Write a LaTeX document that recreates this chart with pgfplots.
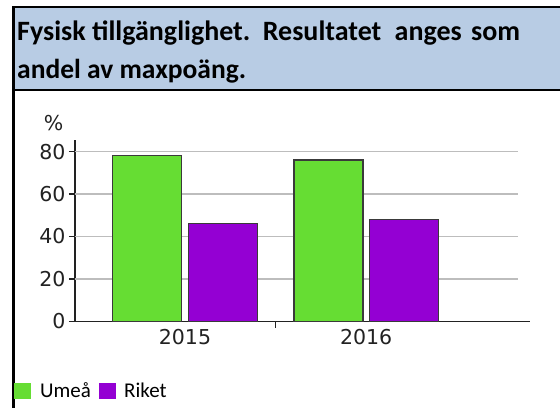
\documentclass[border=0pt]{standalone}
\usepackage{pgfplots}
\pgfplotsset{compat=1.18}
\usepackage{fontspec}
\setmainfont{Carlito}
\newfontfamily\tickfont{DejaVu Sans}
\definecolor{hdr}{HTML}{B8CCE4}
\definecolor{umea}{HTML}{66DD33}
\definecolor{riket}{HTML}{9400D3}
\definecolor{gridc}{HTML}{BDBDBD}
\definecolor{barline}{HTML}{3A3A3A}
\definecolor{axc}{HTML}{222222}
\begin{document}
\begin{tikzpicture}[x=1bp,y=1bp]
\path[use as bounding box] (0,0) rectangle (560,407);
\fill[white] (0,0) rectangle (560,407);
\fill[hdr] (13.5,400) rectangle (561,317);
\draw[line width=2.5bp] (562,400) -- (13.5,400) -- (13.5,-2);
\draw[line width=2.5bp] (13.5,317) -- (562,317);
\node[anchor=base west, inner sep=0, font=\bfseries\fontsize{28bp}{30bp}\selectfont] at (17,367) {Fysisk tillgänglighet.\hspace{4bp} Resultatet\hspace{7bp} anges\hspace{3bp} som};
\node[anchor=base west, inner sep=0, font=\bfseries\fontsize{27.5bp}{30bp}\selectfont] at (17,329) {andel av maxpoäng.};
\begin{axis}[
  scale only axis, width=455bp, height=181bp,
  at={(75bp,85.5bp)}, anchor=south west,
  xmin=-0.607, xmax=1.904, ymin=0, ymax=85.2,
  axis x line*=bottom, axis y line*=left,
  axis line style={line width=1.3bp, axc, -},
  xtick={0.5}, xticklabels={},
  extra x ticks={0,1}, extra x tick labels={2015,2016},
  extra x tick style={major tick length=0pt},
  ytick={0,20,40,60,80},
  tick align=outside, major tick length=6bp,
  tick style={axc, line width=1.3bp},
  ticklabel style={font=\tickfont\fontsize{20.5bp}{20.5bp}\selectfont, text=axc},
  xticklabel style={yshift=-4bp},
  /pgf/number format/assume math mode=true,
  ybar, bar width=0.381,
]
\draw[gridc, line width=1.3bp] (axis cs:-0.607,20) -- (axis cs:1.838,20);
\draw[gridc, line width=1.3bp] (axis cs:-0.607,40) -- (axis cs:1.838,40);
\draw[gridc, line width=1.3bp] (axis cs:-0.607,60) -- (axis cs:1.838,60);
\draw[gridc, line width=1.3bp] (axis cs:-0.607,80) -- (axis cs:1.838,80);
\addplot[fill=umea, draw=barline, line width=1.3bp, bar shift=-0.2085] coordinates {(0,78) (1,76)};
\addplot[fill=riket, draw=barline, line width=1.3bp, bar shift=0.2085] coordinates {(0,46) (1,48)};
\end{axis}
\node[anchor=center, inner sep=0, text=axc, font=\tickfont\fontsize{20.5bp}{20.5bp}\selectfont] at (53.5,283.5) {\%};
\fill[umea] (14,8) rectangle (31,24);
\node[anchor=base west, inner sep=0, font=\fontsize{21bp}{24bp}\selectfont] at (40,9.7) {Umeå};
\fill[riket] (99,8) rectangle (116,24);
\node[anchor=base west, inner sep=0, font=\fontsize{21bp}{24bp}\selectfont] at (124,9.7) {Riket};
\end{tikzpicture}
\end{document}
